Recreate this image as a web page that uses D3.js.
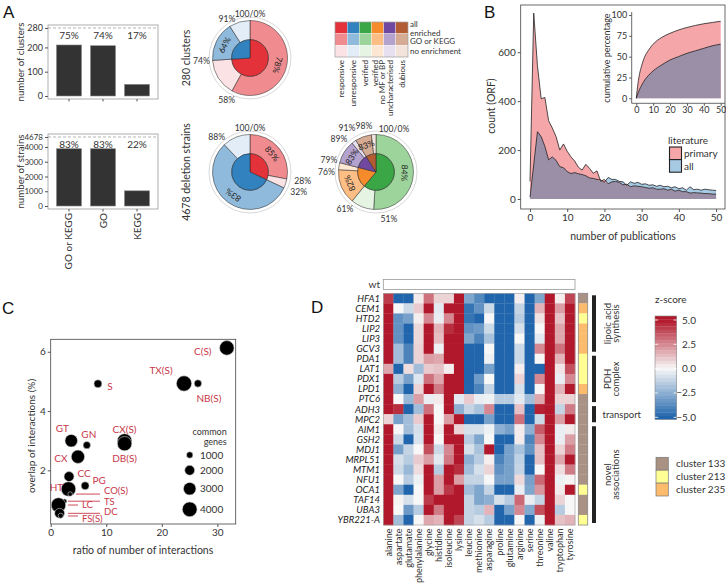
<!DOCTYPE html>
<html><head><meta charset="utf-8">
<script src="https://cdn.jsdelivr.net/npm/d3@7"></script>
<style>
body{margin:0;background:#fff}
svg{font-family:Lato,'Open Sans',sans-serif}
</style></head><body>
<svg id="c" width="726" height="588"></svg>
<script>
// ---------------- DATA ----------------
// Panel A bars
const annotCats = ["GO or KEGG","GO","KEGG"];
const clusterCounts = [210, 207, 48];
const clusterPct = ["75%","74%","17%"];
const clusterTotal = 280;
const strainCounts = [3883, 3883, 1029];
const strainPct = ["83%","83%","22%"];
const strainTotal = 4678;
// Panel A pies (percent of total)
const pieGroups = ["responsive","unresponsive","verified","verified no MF or BP","uncharacterised","dubious"];
const pieClusterGroups = ["responsive","unresponsive"];
const pieClusterShares = [74, 26];
const pieClusterEnriched = [58, 17];
const pieClusterRatio = ["78%","64%"];
const pieStrainGroups = ["responsive","unresponsive"];
const pieStrainShares = [32, 68];
const pieStrainEnriched = [28, 56];
const pieStrainRatio = ["85%","83%"];
const pieVerGroups = ["verified","verified no MF or BP","uncharacterised","dubious"];
const pieVerShares = [61, 18, 12, 9];
const pieVerEnriched = [51, 15, 10, 7];
const pieVerRatio = ["84%","82%","83%","83%"];
// Panel B
const pubs = [0,1,2,3,4,5,6,7,8,9,10,11,12,13,14,15,16,17,18,19,20,21,22,23,24,25,26,27,28,29,30,31,32,33,34,35,36,37,38,39,40,41,42,43,44,45,46,47,48,49,50];
const primaryCounts = [72,760,545,410,415,320,290,255,200,225,195,172,155,130,118,142,125,105,115,72,80,62,70,72,68,58,60,50,54,52,50,47,44,46,40,40,42,36,40,32,36,30,30,24,26,25,24,22,22,20,20];
const allCounts = [8,140,275,255,215,160,172,158,132,128,112,104,108,103,100,95,86,84,80,78,68,88,80,80,72,70,56,70,64,68,60,62,56,58,52,56,50,52,46,50,42,46,36,50,38,40,36,40,38,36,35];
const cumPubs = [0,1,2,3,5,7,10,15,20,25,30,35,40,45,50];
const cumPrimary = [0,18,30,38,50,57,65,73,78,82,85,87.5,89.5,91,92.5];
const cumAll = [0,6,11,15,22,27,33,40,46,50,54,57,60,63,65];
const litLevels = ["primary","all"];
// Panel C
const compLabels = ["C(S)","TX(S)","NB(S)","S","GT","GN","CX(S)","DB(S)","CX","CC","PG","HT","CO(S)","TS","LC","DC","FS(S)"];
const ratioInter = [31.7,24.0,26.5,8.5,3.7,6.5,13.3,13.3,4.9,3.3,6.2,3.2,3.5,2.5,1.4,1.6,1.8];
const overlapInter = [6.13,4.93,4.93,4.92,3.0,2.85,2.99,2.9,2.46,1.79,1.48,1.37,1.2,0.96,0.83,0.55,0.47];
const commonGenes = [3900,4250,1240,1400,3000,1240,3900,3800,3350,2030,1400,3900,600,600,3900,2000,690];
const sizeLegend = [1000,2000,3000,4000];
// Panel D
const genes = ["HFA1","CEM1","HTD2","LIP2","LIP3","GCV3","PDA1","LAT1","PDX1","LPD1","PTC6","ADH3","MPC2","AIM1","GSH2","MDJ1","MRPL51","MTM1","NFU1","OCA1","TAF14","UBA3","YBR221-A"];
const aminoAcids = ["alanine","aspartate","glutamate","phenylalanine","glycine","histidine","isoleucine","lysine","leucine","methionine","asparagine","proline","glutamine","arginine","serine","threonine","valine","tryptophan","tyrosine"];
const zscores = [
[4.2,-5,-5,0.3,3,0.8,0.8,5,-2.8,-3.8,-5,-5,-5,0.2,-5,-2.8,5,0.2,4],
[5,0,-1,1,5,-0.5,5,5,-4.5,-3.5,-1,-5,-5,-1.2,-5,1.5,5,2,5],
[5,-3.5,-3,0.2,2.5,-0.3,2.5,5,-4.5,-5,0,-5,-5,-1.5,-5,0.5,5,1.2,5],
[5,-3.5,-5,0.7,5,1.5,4.5,5,-3.5,-3.2,-1,-5,-5,-0.8,-5,0,5,1.8,5],
[5,-3.5,-5,0.7,5,1.3,5,5,-2.8,-4,-1.8,-5,-5,0,-5,-0.5,5,1.8,5],
[5,-2,-4,0.8,5,-0.2,5,5,-5,-5,0,-5,-5,-1,-5,2.5,5,3,5],
[5,-2,-4,0.8,2,1.8,5,5,-5,-5,-0.2,-5,-5,-1,-5,0,5,1.5,5],
[1.8,-5,0.6,-2,1,1.2,0.2,5,-5,-5,-3,-5,-5,0.2,-5,-5,5,0.4,3.8],
[5,-1.5,-3,-0.6,3,1.8,5,5,-5,-3.2,0,-5,-5,0.8,-5,2.5,5,-0.3,2.5],
[5,-2.5,-5,0.8,5,2.8,5,5,-5,-4,-1.2,-5,-5,-0.8,-5,0,5,1.5,5],
[5,0,-2.2,2,-0.3,0.3,5,-0.5,1,-0.3,-0.2,-1.5,-1.5,-0.5,-2,1.8,5,0.8,0.8],
[5,4.5,-5,-2,3,0,5,-2.5,-1.2,-1.8,2.5,-5,-5,1.2,-5,4.8,5,-1.2,2.8],
[0.8,-3,-2,1,5,0,2,5,-5,-5,-3,-5,-5,3,-5,-1,5,2,5],
[5,0,-2,-0.8,5,0.3,5,0.8,-0.8,-0.8,-0.2,-2.5,-3,0.3,-2.5,3.5,5,-0.3,0.3],
[5,-1,-5,-0.7,5,0,5,5,-1.5,-2.8,0,-5,-5,0.3,-4,2.5,5,-0.3,2],
[5,-3,-1.2,0,3.8,-1,2.5,5,-0.8,-1.8,5,-5,-3,-1.8,-3.5,1.2,5,0.8,2.8],
[5,-0.8,-1.5,1,2,-0.5,2.8,5,-2.5,-1.5,0.2,-4,-3,-1.3,-5,1.2,5,1.8,5],
[5,-1,-2.2,0.6,5,-1.5,5,4.5,-2,-0.8,0.8,-3.5,-3,-1.2,-5,0,5,0.6,2.8],
[5,0,-1.5,-0.2,5,2,5,2,-1.2,-1.2,0,-3,-3,0.7,-3,3.2,5,-0.2,0.1],
[5,-2.8,-5,0,5,2,4.3,5,-2,-2.8,-1.2,-5,-5,-0.3,-2.8,2.2,5,0.3,5],
[5,0.1,-0.8,0,4.2,5,5,5,-1.2,-2.8,-2.5,-0.8,-1.5,3.2,-0.3,-1.2,5,0.8,0],
[5,0,-3.2,-1.5,5,2.8,5,5,-1.2,-1.5,1.5,-5,-3,2.5,-2.7,3.8,5,-1.5,0],
[5,-2,-5,0,1.8,1.5,5,4,-1.2,-0.8,-1.5,-5,-5,0,-5,-0.2,5,1.2,1.5]];
const geneCluster = [133,235,213,235,235,235,213,213,213,235,133,133,133,133,133,133,133,133,133,213,133,133,213];
const clusterIds = [133,213,235];
const geneGroupNames = [["lipoic acid","synthesis"],["PDH","complex"],["transport"],["novel","associations"]];
const geneGroupFirst = [0,6,11,13];
const geneGroupLast = [5,10,12,22];
const zTicks = [5,2.5,0,-2.5,-5];

// ---------------- STYLE / LAYOUT ----------------
const svg = d3.select("#c");
const TXT = "#333";
const groupColors = {
  "responsive":["#e4323a","#f08c90","#fbe2e4"],
  "unresponsive":["#3282bf","#8fbadb","#e3edf7"],
  "verified":["#3aa646","#9dd49b","#e6f4e4"],
  "verified no MF or BP":["#f68b2c","#fdbe85","#fee7d2"],
  "uncharacterised":["#7048a0","#b4a2cf","#e6e0f0"],
  "dubious":["#b35b33","#d6ab94","#f2e3db"]};
const clusterColors = {133:"#a99283",213:"#ffff94",235:"#fdbb6c"};

function txt(x,y,s,size,opts={}){
  const t = svg.append("text").attr("x",x).attr("y",y).text(s)
    .attr("font-size",size).attr("fill",opts.fill||TXT)
    .attr("text-anchor",opts.anchor||"start");
  if(opts.rotate!==undefined) t.attr("transform",`rotate(${opts.rotate},${x},${y})`);
  if(opts.italic) t.attr("font-style","italic");
  if(opts.family) t.attr("font-family",opts.family);
  return t;
}
function styleAxis(a,size){
  a.select(".domain").remove();
  a.selectAll("line").attr("stroke","#555");
  a.selectAll("text").attr("font-size",size).attr("fill",TXT).attr("font-family","Lato,sans-serif");
}
const LETTER = "'Liberation Sans',Arial,sans-serif";
txt(3,18,"A",17,{family:LETTER,fill:"#111"});
txt(484,18,"B",17,{family:LETTER,fill:"#111"});
txt(2,314,"C",17,{family:LETTER,fill:"#111"});
txt(311,313,"D",17,{family:LETTER,fill:"#111"});

// ---------------- PANEL A : bars ----------------
function barChart(top,bottom,yDom,tickVals,values,pcts,maxV,ylab,showX,tickSizePx){
  const x = d3.scaleBand().domain(annotCats).range([48,158]).paddingInner(0.265).paddingOuter(0.25);
  const y = d3.scaleLinear().domain(yDom).range([bottom,top]);
  svg.append("rect").attr("x",48).attr("y",top).attr("width",110).attr("height",bottom-top)
    .attr("fill","none").attr("stroke","#9a9a9a").attr("stroke-width",0.8);
  svg.append("line").attr("x1",48).attr("x2",158).attr("y1",y(maxV)).attr("y2",y(maxV))
    .attr("stroke","#a0a0a0").attr("stroke-width",0.8).attr("stroke-dasharray","3,2");
  svg.selectAll(null).data(values).enter().append("rect")
    .attr("x",(d,i)=>x(annotCats[i])).attr("width",x.bandwidth())
    .attr("y",d=>y(d)).attr("height",d=>y(0)-y(d))
    .attr("fill","#333").attr("stroke","#888").attr("stroke-width",0.6);
  svg.selectAll(null).data(pcts).enter().append("text")
    .attr("x",(d,i)=>x(annotCats[i])+x.bandwidth()/2).attr("y",y(maxV)+11.5)
    .attr("text-anchor","middle").attr("font-size",10).attr("fill",TXT).text(d=>d);
  const ax = svg.append("g").attr("transform","translate(48,0)")
    .call(d3.axisLeft(y).tickValues(tickVals).tickSize(3).tickPadding(2).tickFormat(d3.format("d")));
  styleAxis(ax,tickSizePx);
  const bx = svg.append("g").attr("transform",`translate(0,${bottom})`)
    .call(d3.axisBottom(x).tickSize(2.5).tickFormat(""));
  styleAxis(bx,8);
  txt(24,(top+bottom)/2,ylab,9.7,{anchor:"middle",rotate:-90});
  if(showX){
    annotCats.forEach(c=>txt(x(c)+x.bandwidth()/2+3.5,213,c,10,{anchor:"end",rotate:-90}));
  }
}
barChart(25,99,[-12.4,292.3],[0,100,200,280],clusterCounts,clusterPct,clusterTotal,"number of clusters",false,9);
barChart(134,209,[-203,4881],[0,1000,2000,3000,4000,4678],strainCounts,strainPct,strainTotal,"number of strains",true,8);

// ---------------- PANEL A : pies ----------------
const pieLabelNudge = {
  "ver-51":[16,-1],"ver-91":[-3,-7],"ver-89":[-6,0.5],"ver-98":[-6,-2],"ver-100":[18,1],
  "ver-79":[0,-1.5],"ver-76":[-1,2.5],
  "st-88":[0,-3],"cl-91":[3,-2],"st-28":[3,0],"st-32":[3,0]};
function drawPie(key,cx,cy,groups,shares,enriched,ratios){
  const g = svg.append("g").attr("transform",`translate(${cx},${cy})`);
  g.append("circle").attr("r",41).attr("fill","none").attr("stroke","#d4d4d4").attr("stroke-width",0.9);
  const ang = d3.scaleLinear().domain([0,100]).range([0,2*Math.PI]);
  const innerArc = d3.arc().innerRadius(0).outerRadius(18.3);
  const outerArc = d3.arc().innerRadius(18.3).outerRadius(37.5);
  let cum = 0; const inner=[], outer=[], bounds=[], rl=[];
  groups.forEach((grp,i)=>{
    const s=cum, m=cum+enriched[i], e=cum+shares[i];
    inner.push({s,e,c:groupColors[grp][0]});
    outer.push({s,e:m,c:groupColors[grp][1]});
    outer.push({s:m,e,c:groupColors[grp][2]});
    rl.push({mid:(s+m)/2,t:ratios[i]});
    bounds.push(m,e); cum=e;
  });
  g.selectAll(null).data(outer).enter().append("path")
    .attr("d",d=>outerArc({startAngle:ang(d.s),endAngle:ang(d.e)}))
    .attr("fill",d=>d.c).attr("stroke","#222").attr("stroke-width",0.5);
  g.selectAll(null).data(inner).enter().append("path")
    .attr("d",d=>innerArc({startAngle:ang(d.s),endAngle:ang(d.e)}))
    .attr("fill",d=>d.c).attr("stroke","#222").attr("stroke-width",0.5);
  rl.forEach(d=>{
    const a=ang(d.mid), r=28.5;
    const x=r*Math.sin(a), y=-r*Math.cos(a);
    g.append("text").attr("x",x).attr("y",y).attr("text-anchor","middle").attr("dy","0.35em")
      .attr("font-size",8.5).attr("fill","#222").text(d.t)
      .attr("transform",`rotate(${a*180/Math.PI},${x},${y})`);
  });
  bounds.forEach(b=>{
    const a=ang(b), s=Math.sin(a), c=Math.cos(a);
    const label = b===100?"100/0%":b+"%";
    const w = label.length*4.4;
    let x = s*(s>0?44:42) + s*w/2;
    let y = -44*c + (c<0 ? -c*4 : 0);
    const n = pieLabelNudge[key+"-"+b];
    if(n){x+=n[0]; y+=n[1];}
    g.append("text").attr("x",x).attr("y",y).attr("dy","0.35em").attr("text-anchor","middle")
      .attr("font-size",8.6).attr("fill",TXT).text(label);
  });
}
drawPie("cl",250,58,pieClusterGroups,pieClusterShares,pieClusterEnriched,pieClusterRatio);
drawPie("st",250,172,pieStrainGroups,pieStrainShares,pieStrainEnriched,pieStrainRatio);
drawPie("ver",376,172,pieVerGroups,pieVerShares,pieVerEnriched,pieVerRatio);
txt(190,58,"280 clusters",10.5,{anchor:"middle",rotate:-90});
txt(190,172,"4678 deletion strains",10.5,{anchor:"middle",rotate:-90});

// legend grid
{
  const lx = d3.scaleBand().domain(pieGroups).range([335,408]);
  const ly = d3.scaleBand().domain([0,1,2]).range([22,57]);
  pieGroups.forEach(gn=>[0,1,2].forEach(r=>{
    svg.append("rect").attr("x",lx(gn)).attr("y",ly(r)).attr("width",lx.bandwidth()).attr("height",ly.bandwidth())
      .attr("fill",groupColors[gn][r]).attr("stroke","#fff").attr("stroke-width",0.3);
  }));
  svg.append("rect").attr("x",335).attr("y",22).attr("width",73).attr("height",35).attr("fill","none").attr("stroke","#777").attr("stroke-width",0.5);
  txt(410,27,"all",8);
  txt(410,36,"enriched",8);
  txt(410,44,"GO or KEGG",8);
  txt(410,54,"no enrichment",8);
  pieGroups.forEach(gn=>{
    const cx = lx(gn)+lx.bandwidth()/2;
    if(gn==="verified no MF or BP"){
      txt(cx,60,"verified",8,{anchor:"end",rotate:-90});
      txt(cx+7,60,"no MF or BP",8,{anchor:"end",rotate:-90});
    } else txt(cx+3,60,gn,8,{anchor:"end",rotate:-90});
  });
}

// ---------------- PANEL B ----------------
{
  const x = d3.scaleLinear().domain([-2.5,52.4]).range([520.7,725]);
  const y = d3.scaleLinear().domain([-40.9,793]).range([209,5]);
  const pink="#f4a6a9", blue="#a6c9e4", mix="#9b8fa7";
  const both = pubs.map((p,i)=>({p,a:primaryCounts[i],b:allCounts[i]}));
  const areaA = d3.area().x(d=>x(d.p)).y0(y(0)).y1(d=>y(d.a));
  const areaB = d3.area().x(d=>x(d.p)).y0(y(0)).y1(d=>y(d.b));
  const areaM = d3.area().x(d=>x(d.p)).y0(y(0)).y1(d=>y(Math.min(d.a,d.b)));
  svg.append("path").datum(both).attr("d",areaB).attr("fill",blue);
  svg.append("path").datum(both).attr("d",areaA).attr("fill",pink);
  svg.append("path").datum(both).attr("d",areaM).attr("fill",mix);
  svg.append("path").datum(both).attr("d",d3.line().x(d=>x(d.p)).y(d=>y(d.a))).attr("fill","none").attr("stroke","#222").attr("stroke-width",0.8);
  svg.append("path").datum(both).attr("d",d3.line().x(d=>x(d.p)).y(d=>y(d.b))).attr("fill","none").attr("stroke","#222").attr("stroke-width",0.8);
  svg.append("rect").attr("x",520.7).attr("y",5).attr("width",204.3).attr("height",204).attr("fill","none").attr("stroke","#444").attr("stroke-width",0.8);
  const ay = svg.append("g").attr("transform","translate(520.7,0)").call(d3.axisLeft(y).tickValues([0,200,400,600]).tickSize(3).tickPadding(2).tickFormat(d3.format("d")));
  const ax = svg.append("g").attr("transform","translate(0,209)").call(d3.axisBottom(x).tickValues([0,10,20,30,40,50]).tickSize(3).tickPadding(2).tickFormat(d3.format("d")));
  styleAxis(ay,10); styleAxis(ax,10);
  txt(495,106,"count (ORF)",10.5,{anchor:"middle",rotate:-90});
  txt(623,240,"number of publications",10.5,{anchor:"middle"});
  // inset
  const ix = d3.scaleLinear().domain([0,50]).range([636.3,720.7]);
  const iy = d3.scaleLinear().domain([0,100]).range([98.3,15]);
  const cum = cumPubs.map((p,i)=>({p,a:cumPrimary[i],b:cumAll[i]}));
  const cA = d3.area().curve(d3.curveMonotoneX).x(d=>ix(d.p)).y0(iy(0)).y1(d=>iy(d.a));
  const cB = d3.area().curve(d3.curveMonotoneX).x(d=>ix(d.p)).y0(iy(0)).y1(d=>iy(d.b));
  svg.append("path").datum(cum).attr("d",cA).attr("fill",pink);
  svg.append("path").datum(cum).attr("d",cB).attr("fill",mix);
  svg.append("path").datum(cum).attr("d",cA.lineY1()).attr("fill","none").attr("stroke","#222").attr("stroke-width",0.8);
  svg.append("path").datum(cum).attr("d",cB.lineY1()).attr("fill","none").attr("stroke","#222").attr("stroke-width",0.8);
  svg.append("line").attr("x1",631.7).attr("x2",631.7).attr("y1",12).attr("y2",103.3).attr("stroke","#444").attr("stroke-width",0.8);
  svg.append("line").attr("x1",631.7).attr("x2",725).attr("y1",103.3).attr("y2",103.3).attr("stroke","#444").attr("stroke-width",0.8);
  const iay = svg.append("g").attr("transform","translate(631.7,0)").call(d3.axisLeft(iy).tickValues([0,25,50,75,100]).tickSize(2.5).tickPadding(2).tickFormat(d3.format("d")));
  const iax = svg.append("g").attr("transform","translate(0,103.3)").call(d3.axisBottom(ix).tickValues([0,10,20,30,40,50]).tickSize(2.5).tickPadding(1).tickFormat(d3.format("d")));
  styleAxis(iay,9); styleAxis(iax,9);
  txt(610,58,"cumulative percentage",9,{anchor:"middle",rotate:-90});
  // legend
  txt(668,143.5,"literature",10);
  const lc = {primary:pink, all:blue};
  litLevels.forEach((l,i)=>{
    svg.append("rect").attr("x",669.5).attr("y",147+i*12.6).attr("width",12).attr("height",12.6)
      .attr("fill",lc[l]).attr("stroke","#222").attr("stroke-width",1.1);
    txt(684,157+i*12.6,l,10);
  });
}

// ---------------- PANEL C ----------------
{
  const x = d3.scaleLinear().domain([0,33.3]).range([50.7,235.7]);
  const y = d3.scaleLinear().domain([0.19,6.42]).range([524,339.3]);
  const r = d3.scaleSqrt().domain([500,4000]).range([2,7.4]);
  const labLayout = {
    "C(S)":{dx:-24,dy:4},"TX(S)":{dx:-23,dy:-12.5},"NB(S)":{dx:11,dy:15},"S":{dx:12,dy:3},
    "GT":{dx:-9,dy:-12.5},"GN":{dx:2,dy:-11},"CX(S)":{dx:0,dy:-11.5},"DB(S)":{dx:0,dy:14.5},
    "CX":{dx:-17,dy:1.5},"CC":{dx:15,dy:-3.5},"PG":{dx:14,dy:-5},"HT":{dx:-12,dy:-2},
    "CO(S)":{lx:104,dy:-3,l1:76},"TS":{lx:104,dy:0.5,l1:68},"LC":{lx:82,dy:0,l1:68,l2:78},
    "DC":{lx:104,dy:-1.5,l1:68},"FS(S)":{lx:82,dy:3,l1:68,l2:78,ly:0.3}};
  const pts = compLabels.map((l,i)=>({l,x:ratioInter[i],y:overlapInter[i],g:commonGenes[i]}));
  svg.append("rect").attr("x",50.7).attr("y",339.3).attr("width",185).attr("height",184.7).attr("fill","none").attr("stroke","#444").attr("stroke-width",0.8);
  svg.selectAll(null).data(pts).enter().append("circle")
    .attr("cx",d=>x(d.x)).attr("cy",d=>y(d.y)).attr("r",d=>r(d.g))
    .attr("fill","#000").attr("stroke","#d8d8d8").attr("stroke-width",0.6);
  const red="#c8374a";
  pts.forEach(d=>{
    const L = labLayout[d.l], px=x(d.x), py=y(d.y);
    if(L.lx!==undefined){
      svg.append("line").attr("x1",L.l1).attr("x2",L.l2||100).attr("y1",py+(L.ly||0)).attr("y2",py+(L.ly||0))
        .attr("stroke",red).attr("stroke-width",0.9);
      txt(L.lx,py+L.dy+3.3,d.l,9.5,{fill:red});
    } else {
      txt(px+L.dx,py+L.dy+3.5,d.l,10,{fill:red,anchor:"middle"});
    }
  });
  const ay = svg.append("g").attr("transform","translate(50.7,0)").call(d3.axisLeft(y).tickValues([2,4,6]).tickSize(3).tickPadding(2).tickFormat(d3.format("d")));
  const ax = svg.append("g").attr("transform","translate(0,524)").call(d3.axisBottom(x).tickValues([0,10,20,30]).tickSize(3).tickPadding(2).tickFormat(d3.format("d")));
  styleAxis(ay,10); styleAxis(ax,10);
  txt(35,436,"overlap of interactions (%)",10,{anchor:"middle",rotate:-90});
  txt(143,553.5,"ratio of number of interactions",10.5,{anchor:"middle"});
  // size legend
  txt(226.7,434.5,"common",9,{anchor:"end"});
  txt(226.7,444.5,"genes",9,{anchor:"end"});
  const lyPos = d3.scaleOrdinal().domain(sizeLegend).range([455,470.3,488.7,509.3]);
  sizeLegend.forEach(v=>{
    svg.append("circle").attr("cx",189.7).attr("cy",lyPos(v)).attr("r",r(v)).attr("fill","#000").attr("stroke","#d8d8d8").attr("stroke-width",0.6);
    txt(200,lyPos(v)+3.5,d3.format("d")(v),10);
  });
}

// ---------------- PANEL D ----------------
{
  const x = d3.scaleBand().domain(aminoAcids).range([383.3,575]);
  const y = d3.scaleBand().domain(genes).range([293.3,525]);
  const col = d3.scaleLinear().domain([-5,0,5]).range(["#2166ac","#f7f7f7","#b2182b"]).clamp(true);
  svg.append("rect").attr("x",383.3).attr("y",279.5).attr("width",191.7).attr("height",10).attr("fill","#fff").attr("stroke","#999").attr("stroke-width",0.8);
  txt(380,287.5,"wt",10,{anchor:"end"});
  genes.forEach((gname,i)=>{
    aminoAcids.forEach((a,j)=>{
      svg.append("rect").attr("x",x(a)).attr("y",y(gname)).attr("width",x.bandwidth()+0.3).attr("height",y.bandwidth()+0.3)
        .attr("fill",col(zscores[i][j]));
    });
    txt(380,y(gname)+y.bandwidth()/2+3.4,gname,9.5,{anchor:"end",italic:true,fill:"#222"});
    svg.append("rect").attr("x",578.3).attr("y",y(gname)).attr("width",9.4).attr("height",y.bandwidth()+0.2)
      .attr("fill",clusterColors[geneCluster[i]]);
  });
  svg.append("rect").attr("x",383.3).attr("y",293.3).attr("width",191.7).attr("height",231.7).attr("fill","none").attr("stroke","#999").attr("stroke-width",0.6);
  svg.append("rect").attr("x",578.3).attr("y",293.3).attr("width",9.4).attr("height",231.7).attr("fill","none").attr("stroke","#888").attr("stroke-width",0.8);
  aminoAcids.forEach(a=>txt(x(a)+x.bandwidth()/2+3.2,528.5,a,9,{anchor:"end",rotate:-90}));
  // group bars
  geneGroupNames.forEach((nm,k)=>{
    const y0 = y(genes[geneGroupFirst[k]])+2, y1 = y(genes[geneGroupLast[k]])+y.bandwidth()-2;
    svg.append("rect").attr("x",592).attr("y",y0).attr("width",4).attr("height",y1-y0).attr("fill","#222");
    const cy=(y0+y1)/2;
    if(nm.length===1) txt(602.5,cy+3.5,nm[0],9.5);
    else { txt(611,cy,nm[0],9.5,{anchor:"middle",rotate:-90}); txt(619.5,cy,nm[1],9.5,{anchor:"middle",rotate:-90}); }
  });
  // z-score legend
  txt(655,302.5,"z-score",10);
  const zy = d3.scaleLinear().domain([-5,5]).range([417.3,320]);
  const nb = 30, top=316, bot=419.3;
  d3.range(nb).forEach(k=>{
    const y0 = top + (bot-top)*k/nb, y1 = top+(bot-top)*(k+1)/nb;
    svg.append("rect").attr("x",655).attr("y",y0).attr("width",21.7).attr("height",y1-y0+0.3)
      .attr("fill",col(zy.invert((y0+y1)/2)));
  });
  svg.append("rect").attr("x",655).attr("y",top).attr("width",21.7).attr("height",bot-top).attr("fill","none").attr("stroke","#888").attr("stroke-width",0.6);
  zTicks.forEach(t=>{
    svg.append("line").attr("x1",673.5).attr("x2",676.7).attr("y1",zy(t)).attr("y2",zy(t)).attr("stroke","#fff").attr("stroke-width",0.8);
    svg.append("line").attr("x1",655).attr("x2",658.2).attr("y1",zy(t)).attr("y2",zy(t)).attr("stroke","#fff").attr("stroke-width",0.8);
    txt(696,zy(t)+3.5,d3.format(".1f")(t),10,{anchor:"end"});
  });
  clusterIds.forEach((c,i)=>{
    svg.append("rect").attr("x",656).attr("y",457.3+i*12.9).attr("width",12.3).attr("height",12.9)
      .attr("fill",clusterColors[c]).attr("stroke","#777").attr("stroke-width",0.7);
    txt(676,467.3+i*12.9,"cluster "+c,10);
  });
}
</script></body></html>
